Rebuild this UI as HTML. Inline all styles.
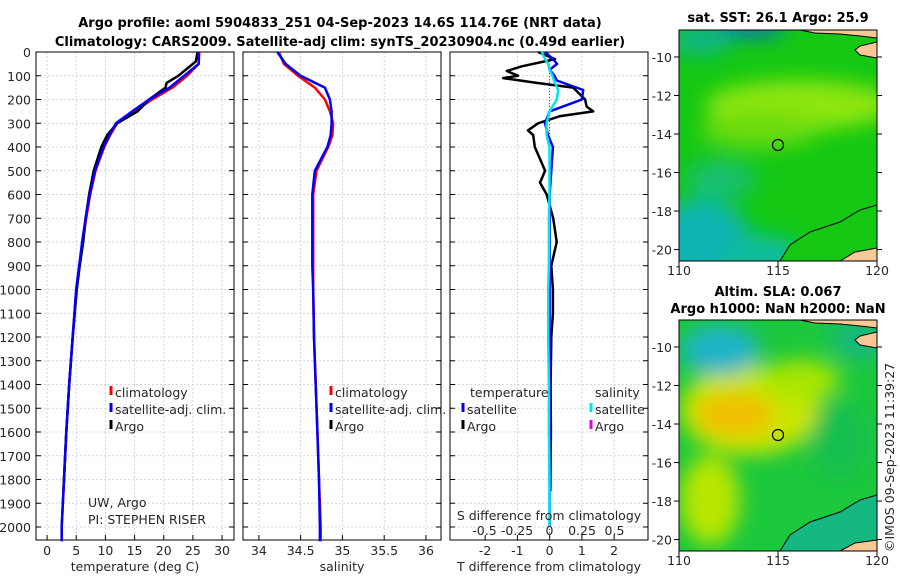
<!DOCTYPE html>
<html><head><meta charset="utf-8"><style>
html,body{margin:0;padding:0;background:#fff;width:900px;height:580px;overflow:hidden}
svg text{font-family:"DejaVu Sans","Liberation Sans",sans-serif;fill:#262626}
.t{font-weight:bold;font-size:13px;fill:#000}
.tk{font-size:12.5px}
.lg{font-size:12.5px}
</style></head><body>
<svg id="c" width="900" height="580" viewBox="0 0 900 580" xmlns="http://www.w3.org/2000/svg">
<defs>
<filter id="bl" x="-30%" y="-30%" width="160%" height="160%"><feGaussianBlur stdDeviation="10"/></filter>
<clipPath id="m1c"><rect x="679" y="30" width="198" height="231"/></clipPath>
<clipPath id="m2c"><rect x="679" y="320" width="198" height="231"/></clipPath>
</defs>
<text class="t" x="340" y="27" text-anchor="middle">Argo profile: aoml 5904833_251 04-Sep-2023 14.6S 114.76E (NRT data)</text>
<text class="t" x="340" y="46" text-anchor="middle">Climatology: CARS2009. Satellite-adj clim: synTS_20230904.nc (0.49d earlier)</text>

<g>
<g clip-path="url(#m1c)">
<rect x="679" y="30" width="198" height="231" fill="#14c814"/>
<g filter="url(#bl)">
<ellipse cx="800" cy="105" rx="95" ry="25" fill="#8ee60a"/>
<ellipse cx="760" cy="130" rx="60" ry="18" fill="#6cdc0c"/>
<ellipse cx="700" cy="240" rx="50" ry="40" fill="#0ab4b4"/>
<ellipse cx="760" cy="255" rx="40" ry="20" fill="#10bca0"/>
<ellipse cx="720" cy="180" rx="35" ry="20" fill="#12c070"/>
<ellipse cx="750" cy="28" rx="35" ry="8" fill="#0a64dc"/>
<ellipse cx="700" cy="40" rx="30" ry="15" fill="#10b48c"/>
</g>
<path d="M800,30 L877,30 L877,38 L860,36 L840,34 L815,33 Z" fill="#f9c896" stroke="#000" stroke-width="1"/>
<path d="M877,42 L860,46 L855,50 L860,55 L877,58 Z" fill="#f9c896" stroke="#000" stroke-width="1"/>
<path d="M780,261 L790,245 L810,232 L840,222 L860,210 L877,205 L877,261 Z" fill="#14c814" stroke="#000" stroke-width="1"/>
<path d="M840,261 L855,252 L877,248 L877,261 Z" fill="#f9c896" stroke="#000" stroke-width="1"/>
</g>
<circle cx="778" cy="145" r="5.5" fill="none" stroke="#000" stroke-width="1.2"/>
<rect x="679" y="30" width="198" height="231" fill="none" stroke="#000"/>
<text class="t" x="778" y="22" text-anchor="middle">sat. SST: 26.1 Argo: 25.9</text>
</g>

<g>
<g clip-path="url(#m2c)">
<rect x="679" y="320" width="198" height="231" fill="#1cc83c"/>
<g filter="url(#bl)">
<ellipse cx="750" cy="410" rx="70" ry="45" fill="#c8e600"/>
<ellipse cx="735" cy="415" rx="40" ry="22" fill="#f0c000"/>
<ellipse cx="800" cy="380" rx="40" ry="20" fill="#a8e600"/>
<ellipse cx="720" cy="350" rx="40" ry="25" fill="#1ab4c8"/>
<ellipse cx="710" cy="500" rx="30" ry="45" fill="#b8e600"/>
<ellipse cx="840" cy="440" rx="30" ry="40" fill="#14c050"/>
<ellipse cx="860" cy="340" rx="30" ry="20" fill="#14b880"/>
</g>
<path d="M800,320 L877,320 L877,328 L860,326 L840,324 L815,323 Z" fill="#f9c896" stroke="#000" stroke-width="1"/>
<path d="M877,332 L860,336 L855,340 L860,345 L877,348 Z" fill="#f9c896" stroke="#000" stroke-width="1"/>
<path d="M780,551 L790,535 L810,522 L840,512 L860,500 L877,495 L877,551 Z" fill="#14b880" stroke="#000" stroke-width="1"/>
<path d="M840,551 L855,543 L877,540 L877,551 Z" fill="#f9c896" stroke="#000" stroke-width="1"/>
</g>
<circle cx="778" cy="435" r="5.5" fill="none" stroke="#000" stroke-width="1.2"/>
<rect x="679" y="320" width="198" height="231" fill="none" stroke="#000"/>
<text class="t" x="778" y="296" text-anchor="middle">Altim. SLA: 0.067</text>
<text class="t" x="778" y="313" text-anchor="middle">Argo h1000: NaN h2000: NaN</text>
</g>
<text class="tk" transform="translate(894,552) rotate(-90)">©IMOS 09-Sep-2023 11:39:27</text>
<g id="dyn"></g>
</svg>
<script>
// depth levels (dbar)
const depthClim = [0,50,100,150,200,250,300,350,400,500,600,700,800,900,1000,1200,1400,1600,1800,2000,2060];
const tempClim  = [26.1,26.0,24.0,21.5,18.0,15.0,12.0,10.8,9.8,8.3,7.4,6.7,6.1,5.5,5.0,4.4,3.8,3.3,2.9,2.5,2.5];
const tempSat   = [26.0,26.0,23.5,21.0,17.5,14.6,11.8,10.7,9.7,8.2,7.3,6.6,6.0,5.5,5.0,4.4,3.8,3.3,2.9,2.5,2.5];
const depthArgo = [0,40,70,100,130,150,200,250,300,350,400,500,600,700,800,900,1000,1200,1400,1600,1850];
const tempArgo  = [25.8,25.5,24.0,22.5,20.5,20.3,17.5,15.5,12.0,10.3,9.3,8.0,7.2,6.6,6.2,5.6,5.1,4.4,3.8,3.3,2.8];
const salClim   = [34.24,34.30,34.47,34.67,34.79,34.85,34.89,34.88,34.83,34.69,34.65,34.65,34.65,34.65,34.65,34.66,34.68,34.70,34.72,34.74,34.74];
const salSat    = [34.22,34.32,34.50,34.79,34.85,34.87,34.87,34.86,34.82,34.67,34.64,34.64,34.64,34.64,34.65,34.66,34.68,34.70,34.72,34.73,34.73];
const depthDiff = [0,30,50,75,100,120,160,200,250,300,350,400,500,600,700,800,900,1000,1200,1400,1600,1800,2000];
const tDiffSat  = [-0.14,0.1,0.23,0.0,0.15,0.22,1.04,1.0,0.0,-0.14,-0.05,0.1,0.05,0.0,0.0,0.0,0.0,0.0,0.0,0.0,0.0,0.0,0.0];
const sDiffSat  = [-0.06,-0.034,-0.01,0.0,0.022,0.034,0.067,0.056,0.0,-0.022,-0.022,0.0,0.0,0.0,-0.005,-0.005,-0.005,-0.01,-0.01,-0.005,-0.005,0.0,0.0];
const depthTA   = [0,30,60,80,100,110,130,150,200,230,250,270,300,330,350,400,450,500,550,600,700,800,900,1000,1100,1200,1400,1600,1850];
const tDiffArgo = [-0.36,0.17,-0.86,-1.33,-0.98,-1.44,-0.4,0.73,1.1,1.15,1.35,0.33,-0.36,-0.67,-0.51,-0.46,-0.3,-0.14,-0.3,-0.09,0.11,0.22,0.05,0.1,0.1,0.05,0.03,0.04,0.02];
const depthTicks = [0,100,200,300,400,500,600,700,800,900,1000,1100,1200,1300,1400,1500,1600,1700,1800,1900,2000];
const tempTicks = [0,5,10,15,20,25,30];
const salTicks = [34,34.5,35,35.5,36];
const salTickLabels = ["34","34.5","35","35.5","36"];
const tdTicks = [-2,-1,0,1,2];
const sdTicks = [-0.5,-0.25,0,0.25,0.5];
const sdTickLabels = ["-0.5","-0.25","0","0.25","0.5"];
const latTicks = [-10,-12,-14,-16,-18,-20];
const lonTicks = [110,115,120];

const NS='http://www.w3.org/2000/svg';
const g=document.getElementById('dyn');
function el(tag,attrs,parent){const e=document.createElementNS(NS,tag);for(const k in attrs)e.setAttribute(k,attrs[k]);(parent||g).appendChild(e);return e;}
const top0=52, bot=540;
const yD=d=>52+d*0.2375;
function panel(x0,w,xmin,xmax,ticks,labels,name){
  const p=el('g',{});
  
  
  const xs=v=>x0+(v-xmin)/(xmax-xmin)*w;
  ticks.forEach(v=>{el('line',{x1:xs(v),x2:xs(v),y1:top0,y2:bot,stroke:'#c8c8e6','stroke-width':0.8,'stroke-dasharray':'2,2'},p);});
  depthTicks.forEach(d=>{el('line',{x1:x0,x2:x0+w,y1:yD(d),y2:yD(d),stroke:'#c8c8e6','stroke-width':0.8,'stroke-dasharray':'2,2'},p);
    el('line',{x1:x0,x2:x0+5,y1:yD(d),y2:yD(d),stroke:'#000'},p);el('line',{x1:x0+w-5,x2:x0+w,y1:yD(d),y2:yD(d),stroke:'#000'},p);});
  ticks.forEach((v,i)=>{el('line',{x1:xs(v),x2:xs(v),y1:bot,y2:bot-5,stroke:'#000'},p);
    const t=el('text',{x:xs(v),y:555,'text-anchor':'middle',class:'tk'},p);t.textContent=labels?labels[i]:String(v);});
  el('rect',{x:x0,y:top0,width:w,height:bot-top0,fill:'none',stroke:'#000','stroke-width':1},p);
  return {p,xs};
}
function line(p,xs,vals,depths,color,wd,name){
  const pts=vals.map((v,i)=>xs(v).toFixed(1)+','+yD(depths[i]).toFixed(1)).join(' ');
  const l=el('polyline',{points:pts,fill:'none',stroke:color,'stroke-width':wd,'stroke-linejoin':'round'},p);
  
  
}
function txt(p,x,y,s,cls,anchor){const t=el('text',{x:x,y:y,class:cls||'tk','text-anchor':anchor||'start'},p);t.textContent=s;return t;}
function legItem(p,x,y,color,s){el('line',{x1:x,x2:x,y1:y-11,y2:y-2,stroke:color,'stroke-width':3},p);txt(p,x+4,y,s,'lg');}

// Panel 1 temperature
const P1=panel(36,198,-1.9,32.05,tempTicks,null,'temperature-panel');
depthTicks.forEach(d=>{txt(P1.p,31,yD(d)+5,String(d),'tk','end');});
line(P1.p,P1.xs,tempClim,depthClim,'#ff0000',2.5,'temp-climatology-line');
line(P1.p,P1.xs,tempArgo,depthArgo,'#000',2.5,'temp-argo-line');
line(P1.p,P1.xs,tempSat,depthClim,'#0000ff',2.5,'temp-satellite-line');
txt(P1.p,135,571,'temperature (deg C)','tk','middle');
legItem(P1.p,111,397,'#ff0000','climatology');legItem(P1.p,111,414,'#0000ff','satellite-adj. clim.');legItem(P1.p,111,431,'#000','Argo');
txt(P1.p,88,507,'UW, Argo','lg').setAttribute('font-size','11');
txt(P1.p,88,524,'PI: STEPHEN RISER','lg').setAttribute('font-size','11');

// Panel 2 salinity
const P2=panel(243,198,33.81,36.18,salTicks,salTickLabels,'salinity-panel');
line(P2.p,P2.xs,salClim,depthClim,'#ff0000',2.5,'sal-climatology-line');
line(P2.p,P2.xs,salSat,depthClim,'#0000ff',2.5,'sal-satellite-line');
txt(P2.p,342,571,'salinity','tk','middle');
legItem(P2.p,331,397,'#ff0000','climatology');legItem(P2.p,331,414,'#0000ff','satellite-adj. clim.');legItem(P2.p,331,431,'#000','Argo');

// Panel 3 differences
const P3=panel(450,198,-3.09,3.05,tdTicks,null,'difference-panel');
const sx=v=>549.5+v*130;
el('line',{x1:549.5,x2:549.5,y1:top0,y2:bot,stroke:'#555','stroke-width':1,'stroke-dasharray':'1,2'},P3.p);
line(P3.p,P3.xs,tDiffArgo,depthTA,'#000',2.5,'tdiff-argo-line');
line(P3.p,P3.xs,tDiffSat,depthDiff,'#0000ff',2.5,'tdiff-satellite-line');
line(P3.p,sx,sDiffSat,depthDiff,'#00e6e6',2.5,'sdiff-satellite-line');
txt(P3.p,549,571,'T difference from climatology','tk','middle');
txt(P3.p,549,520,'S difference from climatology','tk','middle');
sdTicks.forEach((v,i)=>{txt(P3.p,sx(v),535,sdTickLabels[i],'tk','middle');});
txt(P3.p,470,397,'temperature','lg');txt(P3.p,595,397,'salinity','lg');
legItem(P3.p,463,414,'#0000ff','satellite');legItem(P3.p,463,431,'#000','Argo');
legItem(P3.p,591,414,'#00e6e6','satellite');legItem(P3.p,591,431,'#e600e6','Argo');

// map axes ticks
function mapTicks(y0,name){
  const a=el('g',{});
  
  
  const ly=v=>y0+(-8.6-v)*19.26;
  const lx=v=>679+(v-110)*19.8;
  latTicks.forEach(v=>{el('line',{x1:679,x2:674,y1:ly(v),y2:ly(v),stroke:'#000'},a);el('line',{x1:877,x2:882,y1:ly(v),y2:ly(v),stroke:'#000'},a);txt(a,672,ly(v)+5,String(v),'tk','end');});
  lonTicks.forEach(v=>{el('line',{x1:lx(v),x2:lx(v),y1:y0+231,y2:y0+236,stroke:'#000'},a);txt(a,lx(v),y0+245,String(v),'tk','middle');});
}
mapTicks(30,'sst-map-axes');
mapTicks(320,'sla-map-axes');
</script>
</body></html>
